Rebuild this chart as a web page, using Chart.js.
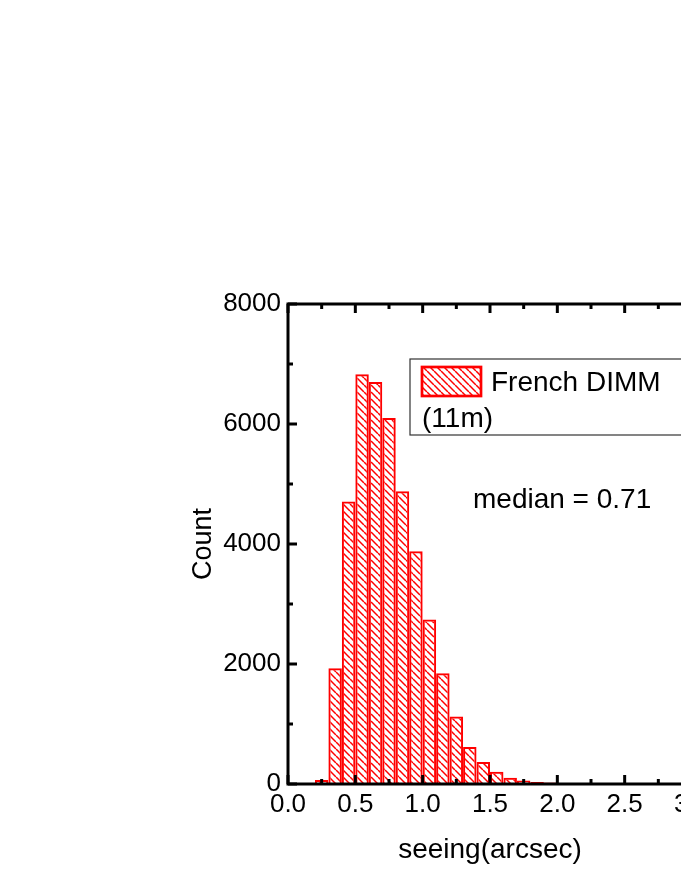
<!DOCTYPE html>
<html>
<head>
<meta charset="utf-8">
<script src="https://cdn.jsdelivr.net/npm/chart.js@4.4.1/dist/chart.umd.min.js"></script>
<style>
  html, body { margin: 0; padding: 0; overflow: hidden; background: #fff; }
  #wrap { width: 740px; height: 881px; position: relative; }
</style>
</head>
<body>
<div id="wrap"><canvas id="c" width="740" height="881"></canvas></div>
<script>
// ---- data ----
const binCenters = [0.25, 0.35, 0.45, 0.55, 0.65, 0.75, 0.85, 0.95, 1.05, 1.15, 1.25, 1.35, 1.45, 1.55, 1.65, 1.75, 1.85, 1.95];
const counts     = [65, 1930, 4710, 6830, 6700, 6100, 4880, 3880, 2740, 1845, 1125, 615, 365, 205, 105, 58, 35, 25];
const xTicks = [0, 0.5, 1.0, 1.5, 2.0, 2.5, 3.0];
const yTicks = [0, 2000, 4000, 6000, 8000];
const seriesName = ['French DIMM', '(11m)'];
const medianText = 'median = 0.71';
const xTitle = 'seeing(arcsec)';
const yTitle = 'Count';

const FONT = '"Liberation Sans", Arial, sans-serif';
const RED = '#ff0000';

function makeHatch() {
  const s = 7;
  const c = document.createElement('canvas');
  c.width = s; c.height = s;
  const g = c.getContext('2d');
  g.strokeStyle = RED;
  g.lineWidth = 1.5;
  for (const k of [-s, 0, s]) {
    g.beginPath();
    g.moveTo(k, 0);
    g.lineTo(k + s, s);
    g.stroke();
  }
  return g.createPattern(c, 'repeat');
}
const hatch = makeHatch();

const framePlugin = {
  id: 'frame',
  afterDatasetsDraw(chart) {
    const {ctx, chartArea: a, scales: {x, y}} = chart;
    ctx.save();
    ctx.strokeStyle = '#000';
    ctx.lineWidth = 3;
    ctx.lineCap = 'butt';
    const drawTick = (x1, y1, x2, y2) => { ctx.beginPath(); ctx.moveTo(x1, y1); ctx.lineTo(x2, y2); ctx.stroke(); };
    for (let i = 0; i < xTicks.length; i++) {
      const px = x.getPixelForValue(xTicks[i]);
      drawTick(px, a.bottom, px, a.bottom - 9);
      drawTick(px, a.top, px, a.top + 9);
      if (i < xTicks.length - 1) {
        const pm = x.getPixelForValue((xTicks[i] + xTicks[i + 1]) / 2);
        drawTick(pm, a.bottom, pm, a.bottom - 5);
        drawTick(pm, a.top, pm, a.top + 5);
      }
    }
    for (let i = 0; i < yTicks.length; i++) {
      const py = y.getPixelForValue(yTicks[i]);
      drawTick(a.left, py, a.left + 9, py);
      drawTick(a.right, py, a.right - 9, py);
      if (i < yTicks.length - 1) {
        const pm = y.getPixelForValue((yTicks[i] + yTicks[i + 1]) / 2);
        drawTick(a.left, pm, a.left + 5, pm);
        drawTick(a.right, pm, a.right - 5, pm);
      }
    }
    ctx.beginPath();
    ctx.rect(a.left, a.top, a.right - a.left, a.bottom - a.top);
    ctx.stroke();
    ctx.restore();
  },
  afterDraw(chart) {
    const {ctx} = chart;
    ctx.save();
    ctx.fillStyle = '#fff';
    ctx.fillRect(410, 359, 320, 76);
    ctx.strokeStyle = '#333';
    ctx.lineWidth = 1.2;
    ctx.strokeRect(410, 359, 320, 76);
    ctx.fillStyle = hatch;
    ctx.fillRect(422, 367, 59, 29);
    ctx.strokeStyle = RED;
    ctx.lineWidth = 2.7;
    ctx.strokeRect(422, 367, 59, 29);
    ctx.fillStyle = '#000';
    ctx.font = '28px ' + FONT;
    ctx.textBaseline = 'alphabetic';
    ctx.textAlign = 'left';
    ctx.fillText(seriesName[0], 491, 391);
    ctx.fillText(seriesName[1], 422, 427);
    ctx.fillText(medianText, 473, 508);
    ctx.restore();
  }
};

new Chart(document.getElementById('c'), {
  type: 'bar',
  data: {
    datasets: [{
      label: seriesName.join(' '),
      data: binCenters.map((c, i) => ({x: c, y: counts[i]})),
      backgroundColor: hatch,
      borderColor: RED,
      borderWidth: 2,
      barPercentage: 1.0,
      categoryPercentage: 1.0,
      inflateAmount: 0
    }]
  },
  options: {
    responsive: false,
    animation: false,
    devicePixelRatio: 1,
    layout: { padding: { top: 304, right: 48, bottom: 0, left: 0 } },
    plugins: { legend: { display: false }, tooltip: { enabled: false } },
    scales: {
      x: {
        type: 'linear',
        min: 0, max: 3,
        offset: false,
        grid: { display: false, drawTicks: false },
        border: { display: false },
        afterFit(s) { s.height = 97; },
        afterBuildTicks(s) { s.ticks = xTicks.map(v => ({value: v})); },
        ticks: {
          autoSkip: false, maxRotation: 0, padding: 5,
          color: '#000',
          font: { family: FONT, size: 26 },
          callback: v => Number(v).toFixed(1)
        },
        title: {
          display: true, text: xTitle, color: '#000',
          font: { family: FONT, size: 28 },
          padding: { top: 0, bottom: 14 }
        }
      },
      y: {
        min: 0, max: 8000,
        grid: { display: false, drawTicks: false },
        border: { display: false },
        afterFit(s) { s.width = 288; },
        afterBuildTicks(s) { s.ticks = yTicks.map(v => ({value: v})); },
        ticks: {
          padding: 7, color: '#000',
          font: { family: FONT, size: 26 },
          callback: v => String(v)
        },
        title: {
          display: true, text: yTitle, color: '#000',
          font: { family: FONT, size: 27 },
          padding: { top: 187, bottom: 0 }
        }
      }
    }
  },
  plugins: [framePlugin]
});
</script>
</body>
</html>
